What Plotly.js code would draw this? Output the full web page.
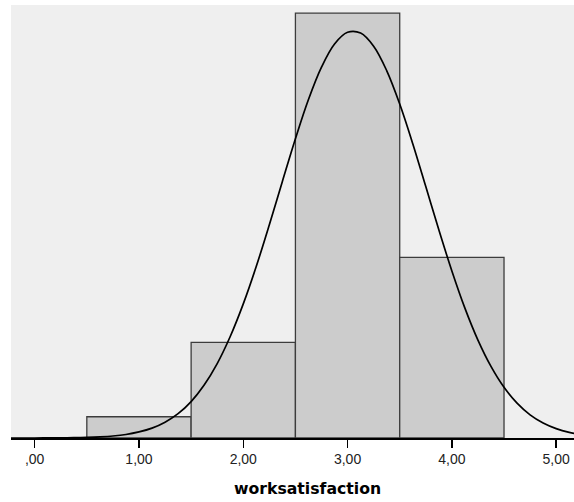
<!DOCTYPE html>
<html>
<head>
<meta charset="utf-8">
<script src="https://cdn.plot.ly/plotly-3.0.1.min.js"></script>
<style>html,body{margin:0;padding:0;background:#fff;}#chart{width:574px;height:502px;}</style>
</head>
<body>
<div id="chart"></div>
<script>
// Histogram bins (bin centres) and frequencies
var binCenters = [1, 2, 3, 4];
var frequencies = [2, 9, 40, 17];
// Normal curve (frequency units)
var curveX = [-0.25, 0, 0.125, 0.25, 0.375, 0.5, 0.625, 0.75, 0.875, 1.0, 1.125, 1.25, 1.375, 1.5, 1.625, 1.75, 1.875, 2.0, 2.125, 2.25, 2.375, 2.5, 2.625, 2.75, 2.875, 3.0, 3.125, 3.25, 3.375, 3.5, 3.625, 3.75, 3.875, 4.0, 4.125, 4.25, 4.375, 4.5, 4.625, 4.75, 4.875, 5.0, 5.125, 5.25];
var curveY = [0.0, 0.0, 0.01, 0.01, 0.03, 0.06, 0.11, 0.19, 0.33, 0.57, 0.93, 1.49, 2.29, 3.43, 4.99, 7.01, 9.56, 12.63, 16.17, 20.08, 24.16, 28.18, 31.87, 34.92, 37.10, 38.20, 38.13, 36.89, 34.60, 31.45, 27.71, 23.67, 19.60, 15.73, 12.23, 9.22, 6.74, 4.77, 3.28, 2.18, 1.41, 0.88, 0.53, 0.31];
// Tick labels
var tickValues = [0, 1, 2, 3, 4, 5];
var tickLabels = [",00", "1,00", "2,00", "3,00", "4,00", "5,00"];
var xTitle = "worksatisfaction";

var bars = {
  type: 'bar',
  x: binCenters,
  y: frequencies,
  width: 1,
  marker: {color: '#cccccc', line: {color: '#3c3c3c', width: 1.3}},
  hoverinfo: 'x+y'
};
var curve = {
  type: 'scatter',
  mode: 'lines',
  x: curveX,
  y: curveY,
  line: {color: '#000000', width: 1.7, shape: 'spline', smoothing: 1},
  hoverinfo: 'skip'
};

var layout = {
  width: 574,
  height: 502,
  margin: {l: 11, r: 0, t: 5, b: 64, pad: 0},
  paper_bgcolor: '#ffffff',
  plot_bgcolor: '#efefef',
  showlegend: false,
  bargap: 0,
  font: {family: 'Liberation Sans, Arial, sans-serif', color: '#000000'},
  xaxis: {
    range: [-0.227, 5.171],
    tickmode: 'array',
    tickvals: tickValues,
    ticktext: tickLabels,
    ticks: 'outside',
    ticklen: 8,
    tickwidth: 1.5,
    tickcolor: '#000000',
    showline: true,
    linecolor: '#000000',
    linewidth: 1.5,
    showgrid: false,
    zeroline: false,
    tickfont: {size: 14, color: '#222222', family: 'Liberation Sans, Arial, sans-serif'}
  },
  yaxis: {
    range: [0, 40.77],
    visible: false,
    showgrid: false,
    zeroline: false
  },
  annotations: [{
    text: xTitle,
    xref: 'paper', yref: 'paper',
    x: 0.5266, y: -0.1155,
    xanchor: 'center', yanchor: 'middle',
    showarrow: false,
    font: {size: 15.7, color: '#000000', family: 'DejaVu Sans, sans-serif', weight: 'bold'}
  }]
};

Plotly.newPlot('chart', [bars, curve], layout, {displayModeBar: false, staticPlot: true});
</script>
</body>
</html>
